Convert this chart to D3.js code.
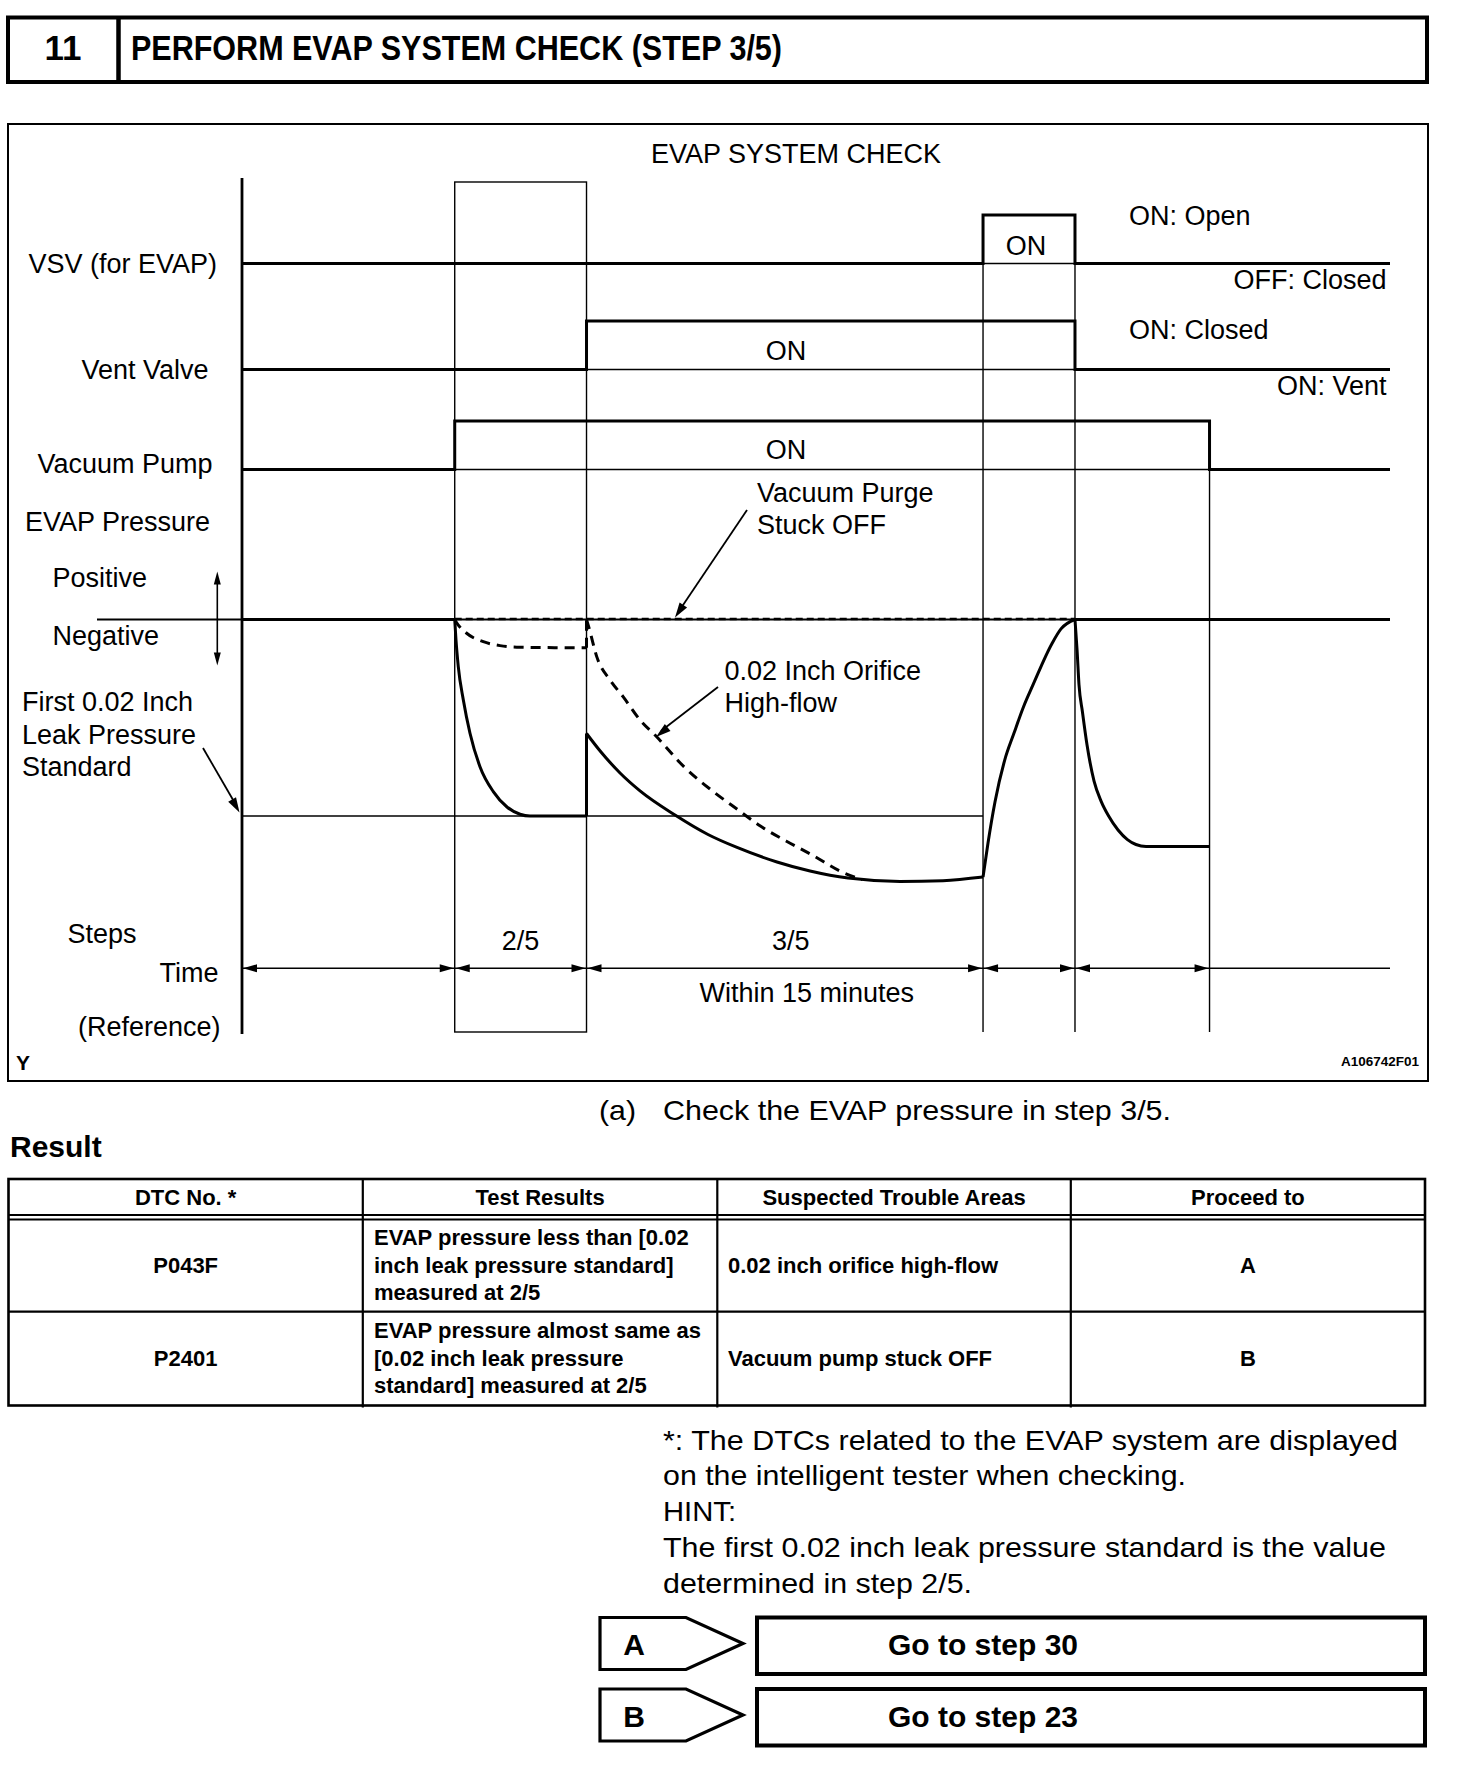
<!DOCTYPE html>
<html>
<head>
<meta charset="utf-8">
<script src="https://cdn.jsdelivr.net/npm/d3@7"></script>
<style>
  html, body { margin: 0; padding: 0; background: #fff; }
  svg { display: block; }
  text { font-family: "Liberation Sans", Arial, Helvetica, sans-serif; fill: #000; }
</style>
</head>
<body>
<svg id="chart" width="1472" height="1782"></svg>
<script>
// ---------------- DATA ----------------
// time axis (arbitrary units 0..100), phase boundaries
const phaseT = [0, 18.53, 30.01, 64.55, 72.56, 84.28, 100];
const stepLabels = [{t: 24.27, label: "2/5"}, {t: 47.8, label: "3/5"}];
const timeNote = {t: 49.2, label: "Within 15 minutes"};

// digital signals: [time, level] (level 0 = OFF, 1 = ON)
const signalNames = ["VSV (for EVAP)", "Vent Valve", "Vacuum Pump"];
const vsvSteps  = [[0, 0], [64.55, 1], [72.56, 0], [100, 0]];
const ventSteps = [[0, 0], [30.01, 1], [72.56, 0], [100, 0]];
const pumpSteps = [[0, 0], [18.53, 1], [84.28, 0], [100, 0]];

// EVAP pressure (0 = atmospheric, -1 = first 0.02 inch leak pressure standard)
const leakStandard = -1;
const solid25 = [[18.53, 0], [18.64, -0.104], [18.84, -0.240], [19.28, -0.410], [19.86, -0.579],
  [20.73, -0.749], [21.89, -0.876], [23.06, -0.953], [24.22, -0.991], [25.09, -1.0], [30.01, -1.0]];
const solid35 = [[30.01, -0.580], [31.18, -0.668], [32.93, -0.781], [34.67, -0.872], [37.72, -0.995],
  [40.59, -1.094], [43.12, -1.160], [46.60, -1.234], [49.48, -1.280], [52.79, -1.316],
  [57.32, -1.333], [61.06, -1.329], [64.55, -1.311]];
const solidRise = [[64.55, -1.311], [64.98, -1.139], [65.59, -0.929], [66.42, -0.719], [67.25, -0.578],
  [68.07, -0.445], [68.90, -0.333], [70.56, -0.122], [71.34, -0.048], [72.56, 0]];
const solidAfter = [[72.56, 0], [72.74, -0.155], [72.91, -0.333], [73.21, -0.471], [73.61, -0.639],
  [74.22, -0.822], [74.83, -0.924], [75.49, -1.0], [76.31, -1.071], [77.13, -1.120],
  [77.87, -1.145], [78.75, -1.155], [84.28, -1.155]];
const dashed25 = [[18.53, 0], [18.64, -0.011], [19.57, -0.070], [21.02, -0.113], [22.47, -0.133],
  [23.93, -0.141], [30.01, -0.144]];
const dashed35 = [[30.01, 0], [30.23, -0.043], [30.90, -0.189], [32.06, -0.308], [33.21, -0.394],
  [34.67, -0.511], [36.06, -0.593], [38.53, -0.751], [40.99, -0.873], [43.21, -0.969],
  [45.12, -1.050], [47.39, -1.127], [49.65, -1.198], [52.40, -1.289], [54.05, -1.324]];

// table
const tableHeaders = ["DTC No. *", "Test Results", "Suspected Trouble Areas", "Proceed to"];
const tableRows = [
  {dtc: "P043F", test: ["EVAP pressure less than [0.02", "inch leak pressure standard]", "measured at 2/5"],
   area: "0.02 inch orifice high-flow", go: "A"},
  {dtc: "P2401", test: ["EVAP pressure almost same as", "[0.02 inch leak pressure", "standard] measured at 2/5"],
   area: "Vacuum pump stuck OFF", go: "B"}
];
const footLines = [
  "*: The DTCs related to the EVAP system are displayed",
  "on the intelligent tester when checking.",
  "HINT:",
  "The first 0.02 inch leak pressure standard is the value",
  "determined in step 2/5."
];
const footWidths = [735, 523, 73, 723, 309];
const actions = [{key: "A", text: "Go to step 30"}, {key: "B", text: "Go to step 23"}];

// ---------------- DRAW ----------------
const svg = d3.select("#chart");

function txt(g, x, y, s, o = {}) {
  const t = g.append("text").attr("x", x).attr("y", y).text(s)
    .attr("font-size", o.size || 27)
    .attr("font-weight", o.bold ? "bold" : "normal")
    .attr("text-anchor", o.anchor || "start");
  if (o.len) t.attr("textLength", o.len).attr("lengthAdjust", "spacingAndGlyphs");
  return t;
}
function hline(g, x1, x2, y, w) {
  g.append("line").attr("x1", x1).attr("x2", x2).attr("y1", y).attr("y2", y)
    .attr("stroke", "#000").attr("stroke-width", w);
}
function vline(g, x, y1, y2, w) {
  g.append("line").attr("x1", x).attr("x2", x).attr("y1", y1).attr("y2", y2)
    .attr("stroke", "#000").attr("stroke-width", w);
}
function arrowHead(g, tx, ty, fx, fy, len, hw) {
  const dx = tx - fx, dy = ty - fy, L = Math.hypot(dx, dy);
  const ux = dx / L, uy = dy / L;
  const bx = tx - ux * len, by = ty - uy * len;
  g.append("polygon")
    .attr("points", [[tx, ty], [bx - uy * hw, by + ux * hw], [bx + uy * hw, by - ux * hw]].map(p => p.join(",")).join(" "))
    .attr("fill", "#000");
}

// Header
const hdr = svg.append("g");
hdr.append("rect").attr("x", 8).attr("y", 17.5).attr("width", 1419).attr("height", 64.5)
  .attr("fill", "none").attr("stroke", "#000").attr("stroke-width", 4);
vline(hdr, 118.5, 17.5, 82, 4.5);
txt(hdr, 63, 60, "11", {size: 35, bold: true, anchor: "middle"});
txt(hdr, 131, 60, "PERFORM EVAP SYSTEM CHECK (STEP 3/5)", {size: 35, bold: true, len: 651});

// Chart frame
const ch = svg.append("g");
ch.append("rect").attr("x", 8).attr("y", 124).attr("width", 1420).attr("height", 957)
  .attr("fill", "none").attr("stroke", "#000").attr("stroke-width", 2);
txt(ch, 796, 163, "EVAP SYSTEM CHECK", {anchor: "middle"});

const x = d3.scaleLinear().domain([0, 100]).range([242, 1390]);
const rowBase = d3.scaleOrdinal().domain(signalNames).range([263.5, 369.5, 469.5]);
const lvl = d3.scaleLinear().domain([0, 1]).range([0, -48.5]);
const yP = d3.scaleLinear().domain([0, -1]).range([619.5, 816]);
const timeY = 968.3, bottomY = 1032;

// vertical guide lines
const b = phaseT;
ch.append("rect").attr("x", x(b[1])).attr("y", 182).attr("width", x(b[2]) - x(b[1])).attr("height", bottomY - 182)
  .attr("fill", "none").attr("stroke", "#000").attr("stroke-width", 1.4);
vline(ch, x(b[3]), rowBase(signalNames[0]) + lvl(1), bottomY, 1.4);
vline(ch, x(b[4]), rowBase(signalNames[0]) + lvl(1), bottomY, 1.4);
vline(ch, x(b[5]), rowBase(signalNames[2]) + lvl(1), bottomY, 1.4);

// y axis
vline(ch, x(0), 178, 1034, 2.8);

// signals
const sigData = [vsvSteps, ventSteps, pumpSteps];
signalNames.forEach((name, i) => {
  const base = rowBase(name);
  const d = sigData[i];
  hline(ch, x(0), x(100), base, 1.4);
  const line = d3.line().x(p => x(p[0])).y(p => base + lvl(p[1])).curve(d3.curveStepAfter);
  ch.append("path").attr("d", line(d)).attr("fill", "none").attr("stroke", "#000")
    .attr("stroke-width", 3).attr("stroke-linejoin", "miter");
});

// signal labels
txt(ch, 28.5, 273, "VSV (for EVAP)");
txt(ch, 81.5, 379, "Vent Valve");
txt(ch, 37.5, 472.5, "Vacuum Pump");
txt(ch, 25, 530.5, "EVAP Pressure");
txt(ch, 1026, 254.5, "ON", {anchor: "middle"});
txt(ch, 786, 360, "ON", {anchor: "middle"});
txt(ch, 786, 458.5, "ON", {anchor: "middle"});
txt(ch, 1129, 225, "ON: Open");
txt(ch, 1386.5, 288.5, "OFF: Closed", {anchor: "end"});
txt(ch, 1129, 338.5, "ON: Closed");
txt(ch, 1386.5, 395, "ON: Vent", {anchor: "end"});

// pressure reference lines
hline(ch, 97, x(100), yP(0), 1.8);
hline(ch, x(0), x(b[1]), yP(0), 3);
hline(ch, x(b[4]), x(100), yP(0), 3.2);
ch.append("line").attr("x1", x(b[1])).attr("x2", x(b[4])).attr("y1", yP(0) - 0.5).attr("y2", yP(0) - 0.5)
  .attr("stroke", "#000").attr("stroke-width", 2.4).attr("stroke-dasharray", "7,4");
hline(ch, x(0), x(b[3]), yP(leakStandard), 1.6);

// pressure curves
const pl = d3.line().x(p => x(p[0])).y(p => yP(p[1])).curve(d3.curveMonotoneX);
const lin = d3.line().x(p => x(p[0])).y(p => yP(p[1]));
function curve(d, dashed, gen = pl) {
  const p = ch.append("path").attr("d", gen(d)).attr("fill", "none").attr("stroke", "#000")
    .attr("stroke-width", 3).attr("stroke-linejoin", "round");
  if (dashed) p.attr("stroke-dasharray", "10,7");
}
curve(dashed25, true);
curve([dashed25[dashed25.length - 1], [dashed25[dashed25.length - 1][0], 0]], true, lin);
curve(dashed35, true);
curve(solid25, false);
curve([solid25[solid25.length - 1], solid35[0]], false, lin);
curve(solid35, false);
curve(solidRise, false);
curve(solidAfter, false);

// pressure labels & arrows
txt(ch, 52.5, 586.5, "Positive");
txt(ch, 52.5, 645, "Negative");
ch.append("line").attr("x1", 217.3).attr("x2", 217.3).attr("y1", 580).attr("y2", 657)
  .attr("stroke", "#000").attr("stroke-width", 1.6);
arrowHead(ch, 217.3, 571.5, 217.3, 620, 13, 3.5);
arrowHead(ch, 217.3, 665.5, 217.3, 620, 13, 3.5);

txt(ch, 22, 711, "First 0.02 Inch");
txt(ch, 22, 743.5, "Leak Pressure");
txt(ch, 22, 775.5, "Standard");
ch.append("line").attr("x1", 203).attr("y1", 748).attr("x2", 236).attr("y2", 805)
  .attr("stroke", "#000").attr("stroke-width", 1.8);
arrowHead(ch, 239.5, 812.5, 203, 748, 15, 4.5);

txt(ch, 757, 501.5, "Vacuum Purge");
txt(ch, 757, 533.5, "Stuck OFF");
ch.append("line").attr("x1", 747).attr("y1", 510).attr("x2", 679).attr("y2", 611)
  .attr("stroke", "#000").attr("stroke-width", 1.8);
arrowHead(ch, 675, 617.5, 747, 510, 15, 4.5);

txt(ch, 724.5, 679.5, "0.02 Inch Orifice");
txt(ch, 724.5, 711.5, "High-flow");
ch.append("line").attr("x1", 718).attr("y1", 687).attr("x2", 661).attr("y2", 731)
  .attr("stroke", "#000").attr("stroke-width", 1.8);
arrowHead(ch, 656, 737, 718, 687, 15, 4.5);

// time axis
txt(ch, 67.5, 943, "Steps");
txt(ch, 159.5, 982, "Time");
txt(ch, 78, 1036, "(Reference)");
hline(ch, x(0), x(100), timeY, 1.4);
for (let i = 0; i < 5; i++) {
  const a = x(b[i]), c = x(b[i + 1]);
  arrowHead(ch, a + 1, timeY, c, timeY, 14, 4);
  arrowHead(ch, c - 1, timeY, a, timeY, 14, 4);
}
stepLabels.forEach(s => txt(ch, x(s.t), 950, s.label, {anchor: "middle"}));
txt(ch, x(timeNote.t), 1002, timeNote.label, {anchor: "middle"});

txt(ch, 16, 1069.5, "Y", {size: 21, bold: true});
txt(ch, 1419, 1066, "A106742F01", {size: 13, bold: true, anchor: "end", len: 78});

// Below chart text
const bt = svg.append("g");
txt(bt, 599, 1120, "(a)", {size: 28, len: 37});
txt(bt, 663, 1120, "Check the EVAP pressure in step 3/5.", {size: 28, len: 508});
txt(bt, 10, 1157, "Result", {size: 30, bold: true});

// Table
const tb = svg.append("g");
const colX = [8.5, 362.8, 717.3, 1070.8, 1425];
const tTop = 1179, hBot = 1215, hBot2 = 1219.5, r1 = 1311.7, r2 = 1405.5;
tb.append("rect").attr("x", colX[0]).attr("y", tTop).attr("width", colX[4] - colX[0]).attr("height", r2 - tTop)
  .attr("fill", "none").attr("stroke", "#000").attr("stroke-width", 2.6);
hline(tb, colX[0], colX[4], hBot, 2.2);
hline(tb, colX[0], colX[4], hBot2, 2.2);
hline(tb, colX[0], colX[4], r1, 2.2);
for (let i = 1; i < 4; i++) vline(tb, colX[i], tTop, r2 + 2, 2.2);
tableHeaders.forEach((h, i) => txt(tb, (colX[i] + colX[i + 1]) / 2, 1205, h, {size: 22, bold: true, anchor: "middle"}));
const rowMid = [(hBot2 + r1) / 2, (r1 + r2) / 2];
tableRows.forEach((r, i) => {
  const base = rowMid[i] + 7;
  txt(tb, (colX[0] + colX[1]) / 2, base, r.dtc, {size: 22, bold: true, anchor: "middle"});
  r.test.forEach((l, j) => txt(tb, 374, base + (j - 1) * 27.5, l, {size: 22, bold: true}));
  txt(tb, 728, base, r.area, {size: 22, bold: true});
  txt(tb, (colX[3] + colX[4]) / 2, base, r.go, {size: 22, bold: true, anchor: "middle"});
});

// Footnote
const fn = svg.append("g");
footLines.forEach((l, i) => txt(fn, 663, 1449.5 + i * 35.8, l, {size: 28, len: footWidths[i]}));

// Action buttons
const ab = svg.append("g");
actions.forEach((a, i) => {
  const top = 1617.5 + i * 71.5, bot = top + 52, mid = (top + bot) / 2;
  ab.append("polygon")
    .attr("points", [[600, top], [686, top], [743, mid], [686, bot], [600, bot]].map(p => p.join(",")).join(" "))
    .attr("fill", "none").attr("stroke", "#000").attr("stroke-width", 3.2);
  txt(ab, 634, mid + 11.5, a.key, {size: 30, bold: true, anchor: "middle"});
  ab.append("rect").attr("x", 757).attr("y", top).attr("width", 668).attr("height", 56.5)
    .attr("fill", "none").attr("stroke", "#000").attr("stroke-width", 4);
  txt(ab, 983, mid + 11.5, a.text, {size: 30, bold: true, anchor: "middle"});
});
</script>
</body>
</html>
